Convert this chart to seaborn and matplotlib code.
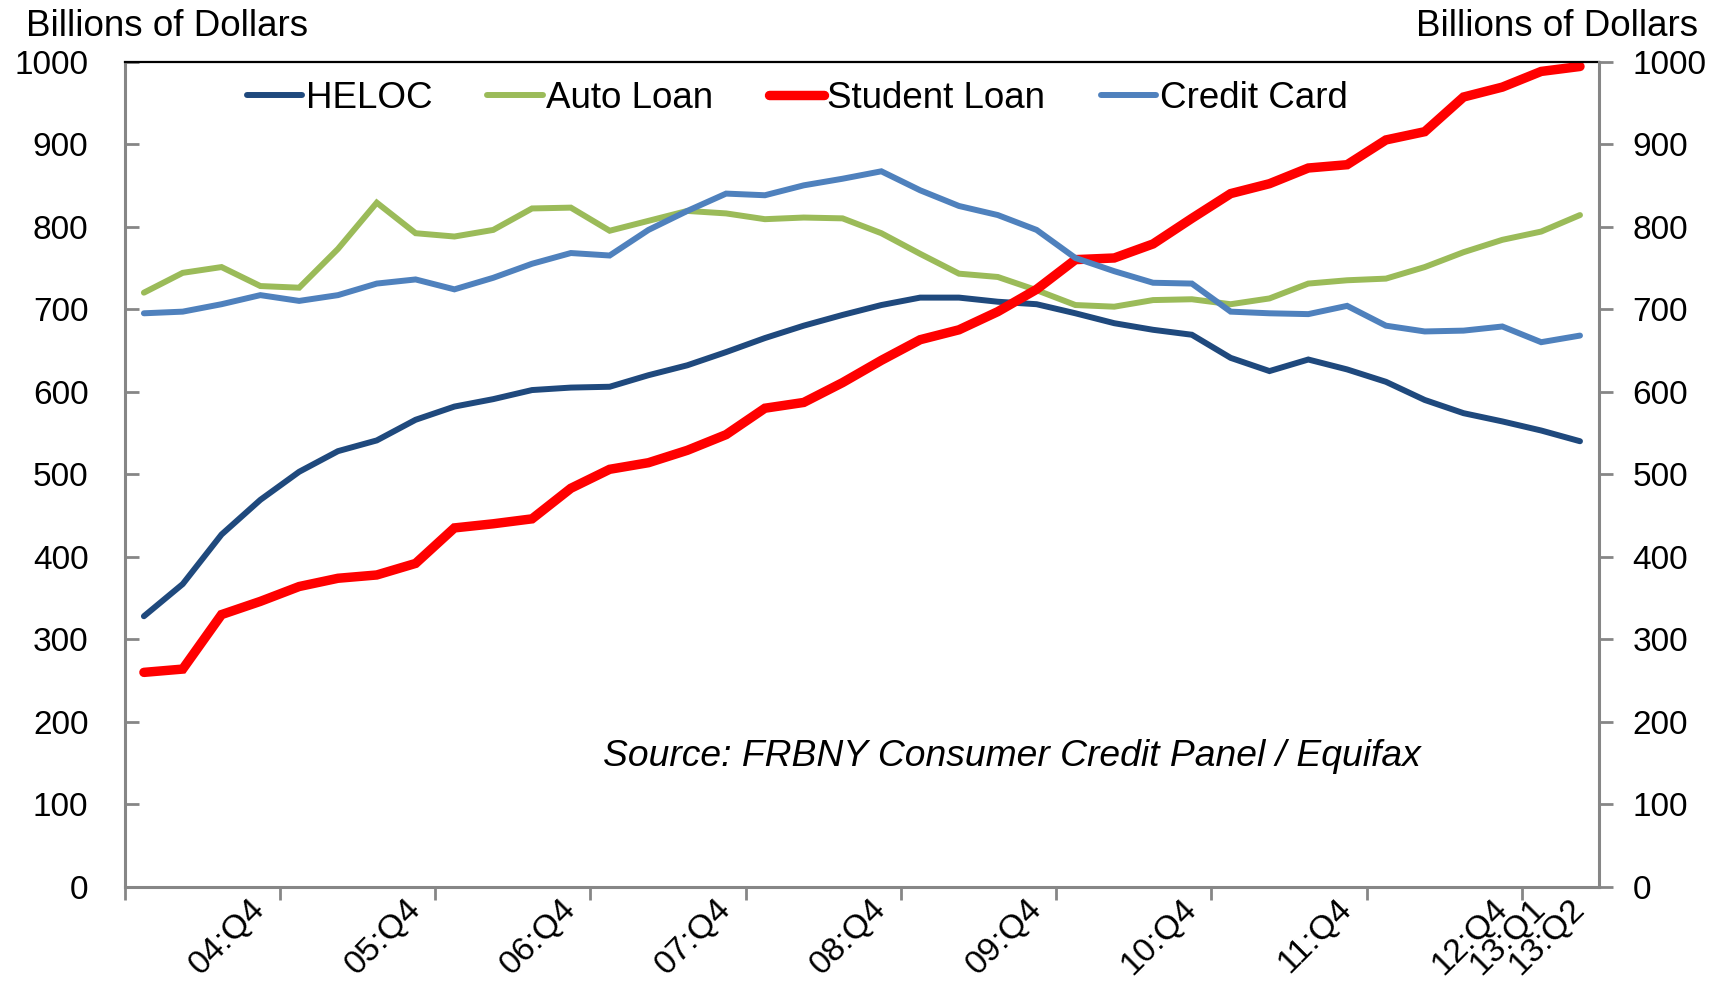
import numpy as np
import pandas as pd
import matplotlib
matplotlib.use("Agg")
import matplotlib.pyplot as plt
import matplotlib.transforms as mtransforms
import seaborn as sns

# ── Data (billions of dollars, quarterly 04:Q1 .. 13:Q2) ──────────────────────
quarters = [f"{y:02d}:Q{q}" for y in range(4, 14) for q in range(1, 5)][:38]

heloc = [328, 367, 427, 469, 503, 528, 541, 566, 582, 591,
         602, 605, 606, 620, 632, 648, 665, 680, 693, 705,
         714, 714, 709, 706, 695, 683, 675, 669, 641, 625,
         639, 627, 612, 590, 574, 564, 553, 540]
auto_loan = [720, 744, 751, 728, 726, 773, 829, 792, 788, 796,
             822, 823, 795, 807, 819, 816, 809, 811, 810, 792,
             767, 743, 739, 723, 705, 703, 711, 712, 706, 713,
             731, 735, 737, 751, 769, 784, 794, 814]
student_loan = [260, 264, 330, 346, 364, 374, 378, 392, 435, 440,
                446, 483, 506, 514, 529, 548, 580, 587, 611, 638,
                663, 675, 697, 724, 760, 762, 779, 810, 840, 852,
                871, 875, 905, 915, 957, 969, 988, 994]
credit_card = [695, 697, 706, 717, 710, 717, 731, 736, 724, 738,
               755, 768, 765, 796, 819, 840, 838, 850, 858, 867,
               844, 825, 814, 796, 762, 746, 732, 731, 697, 695,
               694, 704, 680, 673, 674, 679, 660, 668]

shown_labels = ["04:Q4", "05:Q4", "06:Q4", "07:Q4", "08:Q4", "09:Q4",
                "10:Q4", "11:Q4", "12:Q4", "13:Q1", "13:Q2"]
y_ticks = list(range(0, 1001, 100))

# ── Style ─────────────────────────────────────────────────────────────────────
AXIS_GRAY = "#868686"
series = [
    ("HELOC",        heloc,        "#1F497D", 4.3),
    ("Auto Loan",    auto_loan,    "#9BBB59", 4.3),
    ("Student Loan", student_loan, "#FF0000", 6.8),
    ("Credit Card",  credit_card,  "#4F81BD", 4.3),
]

sns.set_theme(style="white")
plt.rcParams["font.family"] = ["Liberation Sans", "DejaVu Sans"]
plt.rcParams["text.color"] = "black"
plt.rcParams["xtick.color"] = "black"
plt.rcParams["ytick.color"] = "black"

fig = plt.figure(figsize=(17.23, 9.84), dpi=100)
ax = fig.add_axes([0.07226, 0.09858, 0.8560, 0.8389])
ax.set_facecolor("white")

x = np.arange(len(quarters))
for name, vals, color, lw in series:
    sns.lineplot(x=x, y=vals, ax=ax, color=color, linewidth=lw, label=name,
                 solid_capstyle="round", solid_joinstyle="miter")

ax.set_xlim(-0.5, len(quarters) - 0.5)
ax.set_ylim(0, 1000)
ax.set_yticks(y_ticks)
ax.set_ylabel("")
ax.set_xlabel("")

# x axis: boundary ticks every 4 quarters, labels on chosen quarters
ax.set_xticks(np.arange(-0.5, len(quarters) - 0.5, 4), minor=True)
ax.set_xticks([quarters.index(q) for q in shown_labels])
ax.set_xticklabels(shown_labels, rotation=45, ha="right", va="center",
                   rotation_mode="anchor", fontsize=24.5)
shift = mtransforms.ScaledTranslation(20 / 100, 0, fig.dpi_scale_trans)
for lbl in ax.get_xticklabels():
    lbl.set_transform(lbl.get_transform() + shift)
ax.tick_params(axis="x", which="major", length=0, pad=12)
ax.tick_params(axis="x", which="minor", length=9, width=2, color=AXIS_GRAY,
               direction="out", bottom=True)

ax.tick_params(axis="y", which="major", direction="in", length=10, width=2,
               color=AXIS_GRAY, labelsize=24, pad=26, left=True,
               labelcolor="black")

for side in ["left", "bottom"]:
    ax.spines[side].set_color(AXIS_GRAY)
    ax.spines[side].set_linewidth(2.2)
ax.spines["right"].set_visible(False)
ax.spines["top"].set_color("black")
ax.spines["top"].set_linewidth(1.6)

# right axis mirrors the left one
ax2 = ax.twinx()
ax2.set_ylim(0, 1000)
ax2.set_yticks(y_ticks)
ax2.tick_params(axis="y", direction="out", length=10, width=2,
                color=AXIS_GRAY, labelsize=24, pad=14, right=True,
                labelcolor="black")
for side in ["left", "bottom", "top"]:
    ax2.spines[side].set_visible(False)
ax2.spines["right"].set_color(AXIS_GRAY)
ax2.spines["right"].set_linewidth(2.2)
ax2.grid(False)
ax.grid(False)

ax.legend(loc="center", bbox_to_anchor=(0.456, 0.955), ncol=4, frameon=False,
          fontsize=26.5, handlelength=1.5, handletextpad=0.1, columnspacing=1.5,
          borderaxespad=0)

ax.text(0.3244, 0.1466, "Source: FRBNY Consumer Credit Panel / Equifax",
        transform=ax.transAxes, fontsize=26.8, style="italic", va="baseline")

fig.text(26 / 1723, 1 - 36 / 984, "Billions of Dollars", fontsize=26.5,
         ha="left", va="baseline")
fig.text(1698 / 1723, 1 - 36 / 984, "Billions of Dollars", fontsize=26.5,
         ha="right", va="baseline")

fig.savefig("out.png", dpi=100, facecolor="white")
